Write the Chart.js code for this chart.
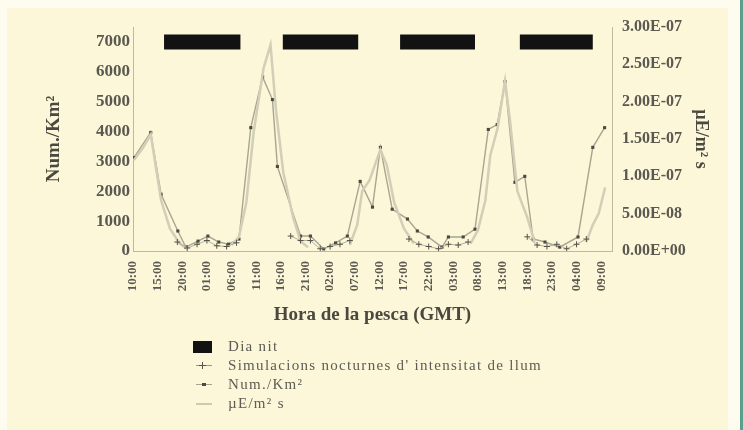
<!DOCTYPE html>
<html>
<head>
<meta charset="utf-8">
<script src="https://cdn.jsdelivr.net/npm/chart.js@4.4.1/dist/chart.umd.min.js"></script>
<style>
  html, body { margin: 0; padding: 0; background: #fdfcef; }
  #wrap { position: relative; width: 743px; height: 430px; overflow: hidden; background: #fdfcef; }
  #panel { position: absolute; left: 7px; top: 8px; width: 721px; height: 422px; background: #fbf7d8; }
  #edge { position: absolute; left: 740px; top: 0; width: 3px; height: 430px; background: #5a9e8c; }
  #chart { position: absolute; left: 0; top: 0; }
  #legend { position: absolute; left: 190px; top: 337px; font-family: "Liberation Serif", serif;
            font-size: 15px; letter-spacing: 1.3px; color: #5e5c54; }
  .row { height: 19px; display: flex; align-items: center; white-space: nowrap; }
  .key { width: 38px; height: 19px; position: relative; flex: none; }
  .box { position: absolute; left: 3px; top: 4px; width: 19px; height: 12px; background: #121212; }
  .ln  { position: absolute; left: 6px; top: 9px; width: 16px; height: 1px; }
  .mk  { position: absolute; }
</style>
</head>
<body>
<div id="wrap">
  <div id="panel"></div>
  <div id="edge"></div>
  <canvas id="chart" width="743" height="430"></canvas>
  <div id="legend">
    <div class="row"><div class="key"><div class="box"></div></div><span>Dia nit</span></div>
    <div class="row"><div class="key"><div class="ln" style="background:#9a9684"></div>
      <div class="mk" style="left:12px;top:6px;width:1px;height:7px;background:#55534a"></div>
      <div class="mk" style="left:9px;top:9px;width:7px;height:1px;background:#55534a"></div></div>
      <span>Simulacions nocturnes d' intensitat de llum</span></div>
    <div class="row"><div class="key"><div class="ln" style="background:#a8a590"></div>
      <div class="mk" style="left:12px;top:8px;width:4px;height:3px;background:#4b4a40"></div></div>
      <span>Num./Km²</span></div>
    <div class="row"><div class="key"><div class="ln" style="background:#cdc9b2;height:2px"></div></div>
      <span>µE/m² s</span></div>
  </div>
</div>
<script>
// Night periods (hours from the start of day 1), drawn as a band at the top
const NIGHT_START = [16.3, 40.4, 64.2, 88.5];
const NIGHT_END   = [31.8, 55.7, 79.4, 103.3];
const NIGHT_LEVEL = 7000;

// Catch density per haul (Num./Km², left axis)
const CATCH_HOURS  = [10.2, 13.6, 15.7, 19.1, 20.7, 23.2, 25.2, 27.4, 29.4, 31.5,
                      33.9, 36.3, 38.3, 39.3, 44.0, 46.0, 48.7, 51.1, 53.5,
                      56.1, 58.6, 60.2, 62.6, 65.7, 67.7, 69.9, 72.7, 74.0, 77.0, 79.4,
                      82.1, 83.9, 85.5, 87.5, 89.5, 91.2, 93.6, 96.6, 100.3, 103.3, 105.7];
const CATCH_VALUES = [3130, 3970, 1900, 670, 130, 330, 500, 300, 230, 400,
                      4130, 5830, 5070, 2830, 500, 500, 70, 270, 500,
                      2330, 1470, 3470, 1400, 1070, 670, 470, 130, 470, 470, 730,
                      4070, 4230, 5670, 2300, 2500, 400, 300, 130, 470, 3470, 4130];

// Measured light intensity during daytime (µE/m² s, right axis); null breaks the line at night
const LIGHT_HOURS  = [10.2, 12.0, 13.6, 15.7, 17.5, 19.5, 21.0, 25.0,
                      30.0, 31.5, 33.0, 34.5, 36.5, 37.9, 39.0, 40.5, 42.5, 44.0, 45.5, 50.0,
                      54.0, 55.5, 56.5, 58.0, 60.2, 61.5, 63.0, 65.0, 67.0, 72.0,
                      78.5, 80.0, 81.5, 82.5, 84.0, 85.5, 86.5, 88.0, 90.0, 91.5, 96.0,
                      102.0, 103.3, 104.5, 105.8];
const LIGHT_VALUES = [1.22e-7, 1.38e-7, 1.56e-7, 6.8e-8, 3.0e-8, 1.0e-8, 3e-9, null,
                      8e-9, 1.9e-8, 6.5e-8, 1.60e-7, 2.45e-7, 2.76e-7, 1.90e-7, 1.05e-7, 4.5e-8, 1.3e-8, 5e-9, null,
                      8e-9, 3.5e-8, 8.0e-8, 9.5e-8, 1.36e-7, 1.15e-7, 6.5e-8, 3.0e-8, 1.0e-8, null,
                      1.0e-8, 2.8e-8, 6.8e-8, 1.28e-7, 1.65e-7, 2.28e-7, 1.75e-7, 8.0e-8, 4.5e-8, 1.2e-8, null,
                      1.2e-8, 3.5e-8, 5.0e-8, 8.5e-8];

// Simulated night-time light intensity (right axis)
const SIM_HOURS  = [19, 21, 23, 25, 27, 29, 31, 36,
                    42, 44, 46, 48, 50, 52, 54, 60,
                    66, 68, 70, 72, 74, 76, 78, 84,
                    90, 92, 94, 96, 98, 100, 102];
const SIM_VALUES = [1.2e-8, 4e-9, 9e-9, 1.4e-8, 7e-9, 6e-9, 1.1e-8, null,
                    2.0e-8, 1.4e-8, 1.4e-8, 3e-9, 6e-9, 9e-9, 1.4e-8, null,
                    1.6e-8, 9e-9, 6e-9, 3e-9, 9e-9, 8e-9, 1.2e-8, null,
                    1.9e-8, 8e-9, 6e-9, 9e-9, 3e-9, 9e-9, 1.6e-8];

// Axis ticks
const X_TICK_HOURS  = [10, 15, 20, 25, 30, 35, 40, 45, 50, 55, 60, 65, 70, 75, 80, 85, 90, 95, 100, 105];
const X_TICK_LABELS = ['10:00', '15:00', '20:00', '01:00', '06:00', '11:00', '16:00', '21:00', '02:00', '07:00',
                       '12:00', '17:00', '22:00', '03:00', '08:00', '13:00', '18:00', '23:00', '04:00', '09:00'];
const LEFT_TICKS  = [0, 1000, 2000, 3000, 4000, 5000, 6000, 7000];
const RIGHT_TICKS = [0, 5e-8, 1e-7, 1.5e-7, 2e-7, 2.5e-7, 3e-7];

const pairs = (xs, ys) => xs.map((x, i) => ({ x: x, y: ys[i] }));
const nightData = [];
NIGHT_START.forEach((s, i) => {
  nightData.push({ x: s, y: NIGHT_LEVEL }, { x: NIGHT_END[i], y: NIGHT_LEVEL });
  if (i < NIGHT_START.length - 1) nightData.push({ x: (NIGHT_END[i] + NIGHT_START[i + 1]) / 2, y: null });
});

function sci(v) {
  if (Math.abs(v) < 1e-15) return '0.00E+00';
  const e = Math.floor(Math.log10(Math.abs(v)) + 1e-9);
  const m = v / Math.pow(10, e);
  const sign = e < 0 ? '-' : '+';
  return m.toFixed(2) + 'E' + sign + String(Math.abs(e)).padStart(2, '0');
}

const FONT = '"Liberation Serif", serif';
const INK = '#5a5850';
const AXIS = '#bdbaa2';

Chart.defaults.font.family = FONT;
Chart.defaults.color = INK;

new Chart(document.getElementById('chart'), {
  type: 'line',
  data: {
    datasets: [
      { label: 'Dia nit', data: nightData, yAxisID: 'y', borderColor: '#121212', borderWidth: 15,
        borderCapStyle: 'butt', pointRadius: 0, spanGaps: false },
      { label: "Simulacions nocturnes d' intensitat de llum", data: pairs(SIM_HOURS, SIM_VALUES), yAxisID: 'y1',
        borderColor: '#b4b09a', borderWidth: 1, pointStyle: 'cross', pointRadius: 3,
        pointBorderColor: '#55534a', pointBorderWidth: 1, spanGaps: false },
      { label: 'µE/m² s', data: pairs(LIGHT_HOURS, LIGHT_VALUES), yAxisID: 'y1',
        borderColor: '#d2ceb7', borderWidth: 2.5, pointRadius: 0, spanGaps: false },
      { label: 'Num./Km²', data: pairs(CATCH_HOURS, CATCH_VALUES), yAxisID: 'y',
        borderColor: '#a8a590', borderWidth: 1.4, pointStyle: 'rect', pointRadius: 2.2,
        pointBackgroundColor: '#4b4a40', pointBorderColor: '#4b4a40', pointBorderWidth: 0 }
    ]
  },
  options: {
    responsive: false,
    animation: false,
    devicePixelRatio: 1,
    layout: { padding: { top: 27, bottom: 100, left: 0, right: 0 } },
    plugins: { legend: { display: false }, tooltip: { enabled: false } },
    scales: {
      x: {
        type: 'linear', min: 10, max: 107.2,
        afterBuildTicks: s => { s.ticks = X_TICK_HOURS.map(v => ({ value: v })); },
        afterFit: s => { s.height = 79; },
        grid: { drawOnChartArea: false, drawTicks: false },
        border: { color: AXIS, width: 1 },
        ticks: {
          autoSkip: false, minRotation: 90, maxRotation: 90, padding: 10,
          font: { size: 13, weight: 'bold' }, color: INK,
          callback: v => X_TICK_LABELS[X_TICK_HOURS.indexOf(v)] ?? ''
        },
        title: { display: true, text: 'Hora de la pesca (GMT)', color: '#4a483f',
                 font: { size: 19, weight: 'bold' }, padding: { top: 0, bottom: 4 } }
      },
      y: {
        position: 'left', min: 0, max: 7500,
        afterBuildTicks: s => { s.ticks = LEFT_TICKS.map(v => ({ value: v })); },
        afterFit: s => { s.width = 133; },
        grid: { drawOnChartArea: false, drawTicks: false },
        border: { color: AXIS, width: 1 },
        ticks: { padding: 3, font: { size: 17, weight: 'bold' }, color: INK, callback: v => String(v) },
        title: { display: true, text: 'Num./Km²', color: '#4a483f',
                 font: { size: 19, weight: 'bold' }, padding: { top: 43, bottom: 0 } }
      },
      y1: {
        position: 'right', min: 0, max: 3e-7,
        afterBuildTicks: s => { s.ticks = RIGHT_TICKS.map(v => ({ value: v })); },
        afterFit: s => { s.width = 131; },
        grid: { drawOnChartArea: false, drawTicks: false },
        border: { color: AXIS, width: 1 },
        ticks: { padding: 10, font: { size: 16, weight: 'bold' }, color: INK, callback: v => sci(v) },
        title: { display: true, text: 'µE/m² s', color: '#4a483f',
                 font: { size: 18, weight: 'bold' }, padding: { top: 32, bottom: 0 } }
      }
    }
  }
});
</script>
</body>
</html>
